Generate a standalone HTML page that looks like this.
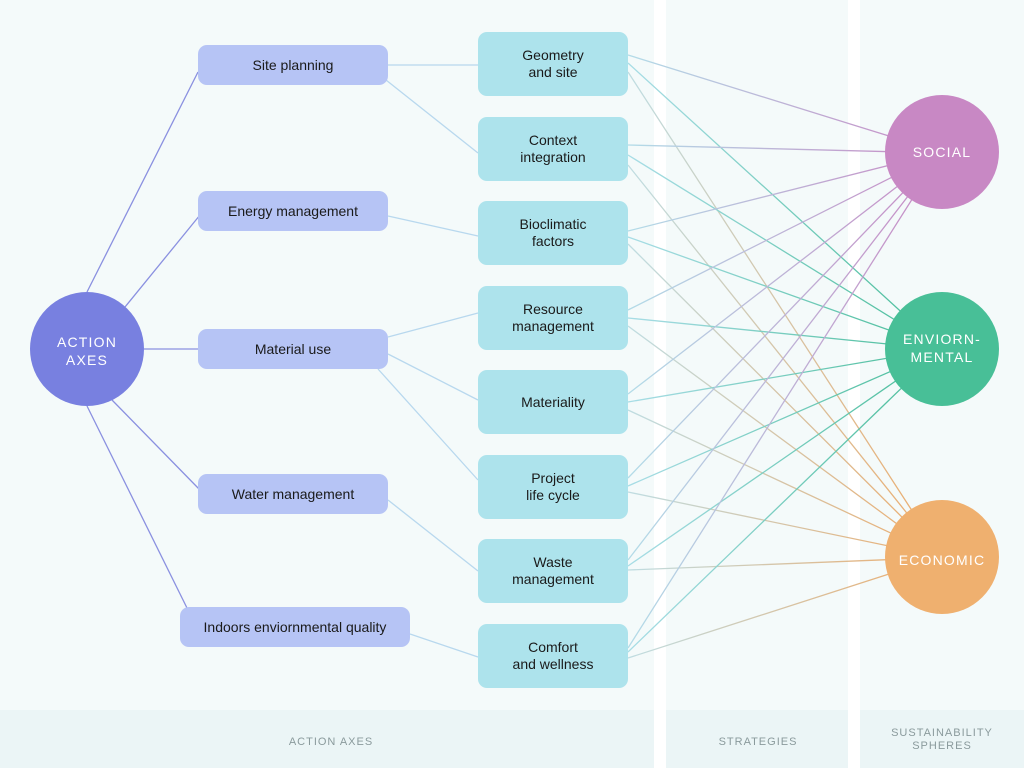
<!DOCTYPE html>
<html><head><meta charset="utf-8"><style>
body{margin:0;width:1024px;height:768px;overflow:hidden;background:#fff;font-family:"Liberation Sans",sans-serif}
svg text{font-family:"Liberation Sans",sans-serif}
</style></head><body>
<svg width="1024" height="768" viewBox="0 0 1024 768">
<defs>
<linearGradient id="gs" x1="0" y1="0" x2="1" y2="0"><stop offset="0" stop-color="#b3dce8"/><stop offset="1" stop-color="#c888c4"/></linearGradient>
<linearGradient id="ge" x1="0" y1="0" x2="1" y2="0"><stop offset="0" stop-color="#a8dde6"/><stop offset="1" stop-color="#45bc96"/></linearGradient>
<linearGradient id="gc" x1="0" y1="0" x2="1" y2="0"><stop offset="0" stop-color="#bfdde2"/><stop offset="1" stop-color="#eeaa68"/></linearGradient>
</defs>
<rect x="0" y="0" width="654" height="768" fill="#f4fafa"/>
<rect x="666" y="0" width="182" height="768" fill="#f4fafa"/>
<rect x="860" y="0" width="164" height="768" fill="#f4fafa"/>
<rect x="0" y="710" width="654" height="58" fill="#ebf5f6"/>
<rect x="666" y="710" width="182" height="58" fill="#ebf5f6"/>
<rect x="860" y="710" width="164" height="58" fill="#ebf5f6"/>
<g font-size="11" fill="#8a9a9c" letter-spacing="1" text-anchor="middle">
<text x="331" y="745">ACTION AXES</text>
<text x="758" y="745">STRATEGIES</text>
<text x="942" y="736">SUSTAINABILITY</text>
<text x="942" y="749">SPHERES</text>
</g>
<g stroke="#8a90e0" stroke-width="1.3">
<line x1="87" y1="292" x2="198" y2="72"/>
<line x1="125" y1="307" x2="200" y2="215"/>
<line x1="144" y1="349" x2="198" y2="349"/>
<line x1="112" y1="400" x2="200" y2="490"/>
<line x1="87" y1="406" x2="188" y2="610"/>
</g>
<g stroke="#b8d8ee" stroke-width="1.3">
<line x1="388" y1="65" x2="478" y2="65"/>
<line x1="386" y1="80" x2="478" y2="153"/>
<line x1="388" y1="216" x2="478" y2="236"/>
<line x1="388" y1="337" x2="478" y2="313"/>
<line x1="388" y1="354" x2="478" y2="400"/>
<line x1="378" y1="369" x2="478" y2="480"/>
<line x1="388" y1="500" x2="478" y2="571"/>
<line x1="410" y1="634" x2="478" y2="657"/>
</g>
<g stroke-width="1.3" fill="none">
<line x1="628" y1="55" x2="942" y2="152.5" stroke="url(#gs)"/>
<line x1="628" y1="63" x2="942" y2="349" stroke="url(#ge)"/>
<line x1="628" y1="72" x2="942" y2="557" stroke="url(#gc)"/>
<line x1="628" y1="145" x2="942" y2="153" stroke="url(#gs)"/>
<line x1="628" y1="155" x2="942" y2="349" stroke="url(#ge)"/>
<line x1="628" y1="165" x2="942" y2="557" stroke="url(#gc)"/>
<line x1="628" y1="231" x2="942" y2="152" stroke="url(#gs)"/>
<line x1="628" y1="237" x2="942" y2="349" stroke="url(#ge)"/>
<line x1="628" y1="244" x2="942" y2="557" stroke="url(#gc)"/>
<line x1="628" y1="310" x2="942" y2="152" stroke="url(#gs)"/>
<line x1="628" y1="318" x2="942" y2="349.5" stroke="url(#ge)"/>
<line x1="628" y1="326" x2="942" y2="557" stroke="url(#gc)"/>
<line x1="628" y1="394" x2="942" y2="152" stroke="url(#gs)"/>
<line x1="628" y1="402" x2="942" y2="349" stroke="url(#ge)"/>
<line x1="628" y1="410" x2="942" y2="557" stroke="url(#gc)"/>
<line x1="628" y1="478" x2="942" y2="152" stroke="url(#gs)"/>
<line x1="628" y1="486" x2="942" y2="349" stroke="url(#ge)"/>
<line x1="628" y1="492" x2="942" y2="557" stroke="url(#gc)"/>
<line x1="628" y1="560" x2="942" y2="152" stroke="url(#gs)"/>
<line x1="628" y1="566" x2="942" y2="349" stroke="url(#ge)"/>
<line x1="628" y1="570" x2="942" y2="557.5" stroke="url(#gc)"/>
<line x1="628" y1="648" x2="942" y2="152" stroke="url(#gs)"/>
<line x1="628" y1="652" x2="942" y2="349" stroke="url(#ge)"/>
<line x1="628" y1="658" x2="942" y2="557" stroke="url(#gc)"/>
</g>
<circle cx="87" cy="349" r="57" fill="#7880e0"/>
<g font-size="14" fill="#fff" text-anchor="middle" letter-spacing="1.2">
<text x="87" y="347">ACTION</text><text x="87" y="365">AXES</text>
</g>
<circle cx="942" cy="152" r="57" fill="#c888c4"/>
<circle cx="942" cy="349" r="57" fill="#48bf97"/>
<circle cx="942" cy="557" r="57" fill="#efb06f"/>
<g font-size="14" fill="#fff" text-anchor="middle" letter-spacing="1.2">
<text x="942" y="157">SOCIAL</text>
<text x="942" y="344">ENVIORN-</text><text x="942" y="362">MENTAL</text>
<text x="942" y="565">ECONOMIC</text>
</g>
<g fill="#b6c4f5">
<rect x="198" y="45" width="190" height="40" rx="9"/>
<rect x="198" y="191" width="190" height="40" rx="9"/>
<rect x="198" y="329" width="190" height="40" rx="9"/>
<rect x="198" y="474" width="190" height="40" rx="9"/>
<rect x="180" y="607" width="230" height="40" rx="9"/>
</g>
<g font-size="14" fill="#1a1a1a" text-anchor="middle">
<text x="293" y="70">Site planning</text>
<text x="293" y="216">Energy management</text>
<text x="293" y="354">Material use</text>
<text x="293" y="499">Water management</text>
<text x="295" y="632">Indoors enviornmental quality</text>
</g>
<g fill="#ade3ec">
<rect x="478" y="32" width="150" height="64" rx="9"/>
<rect x="478" y="117" width="150" height="64" rx="9"/>
<rect x="478" y="201" width="150" height="64" rx="9"/>
<rect x="478" y="286" width="150" height="64" rx="9"/>
<rect x="478" y="370" width="150" height="64" rx="9"/>
<rect x="478" y="455" width="150" height="64" rx="9"/>
<rect x="478" y="539" width="150" height="64" rx="9"/>
<rect x="478" y="624" width="150" height="64" rx="9"/>
</g>
<g font-size="14" fill="#1a1a1a" text-anchor="middle">
<text x="553" y="60">Geometry</text><text x="553" y="77">and site</text>
<text x="553" y="145">Context</text><text x="553" y="162">integration</text>
<text x="553" y="229">Bioclimatic</text><text x="553" y="246">factors</text>
<text x="553" y="314">Resource</text><text x="553" y="331">management</text>
<text x="553" y="407">Materiality</text>
<text x="553" y="483">Project</text><text x="553" y="500">life cycle</text>
<text x="553" y="567">Waste</text><text x="553" y="584">management</text>
<text x="553" y="652">Comfort</text><text x="553" y="669">and wellness</text>
</g>
</svg>
</body></html>
